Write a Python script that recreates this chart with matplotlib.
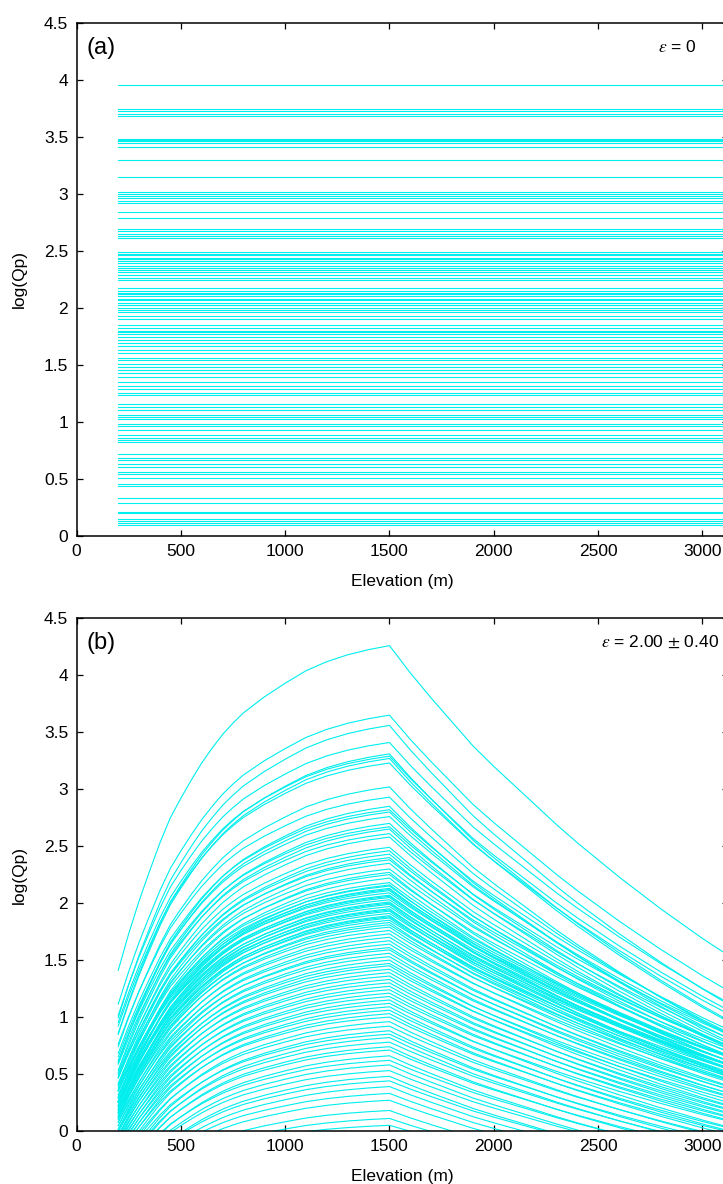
import numpy as np
import matplotlib
matplotlib.use("Agg")
import matplotlib.pyplot as plt
from matplotlib.ticker import FormatStrFormatter

plt.rcParams["font.family"] = ["Liberation Sans", "DejaVu Sans"]
plt.rcParams["mathtext.fontset"] = "stix"

# (a) epsilon = 0 : constant log(Qp) per run
vals_a = [3.956, 3.743, 3.725, 3.70, 3.68, 3.48, 3.47, 3.46, 3.445, 3.41,
          3.30, 3.15, 3.015, 2.995, 2.98, 2.96, 2.94, 2.92, 2.84, 2.79,
          2.69, 2.67, 2.65, 2.63, 2.61, 2.49, 2.475, 2.46, 2.44, 2.425,
          2.41, 2.39, 2.37, 2.35, 2.33, 2.31, 2.29, 2.26, 2.24, 2.17,
          2.15, 2.13, 2.12, 2.10, 2.08, 2.07, 2.04, 2.02, 2.00, 1.98,
          1.96, 1.93, 1.90, 1.85, 1.82, 1.80, 1.79, 1.77, 1.74, 1.72,
          1.69, 1.66, 1.63, 1.60, 1.56, 1.54, 1.51, 1.48, 1.45, 1.43,
          1.39, 1.35, 1.31, 1.29, 1.25, 1.23, 1.155, 1.13, 1.10, 1.06,
          1.04, 1.02, 0.98, 0.96, 0.93, 0.88, 0.86, 0.84, 0.82, 0.72,
          0.68, 0.66, 0.63, 0.60, 0.56, 0.54, 0.51, 0.45, 0.44, 0.33,
          0.285, 0.21, 0.195, 0.15, 0.13, 0.11, 0.09]
x_start = 200
x_end = 3300

# (b) epsilon = 2.00 +- 0.40 : peak value at 1500 m, scale of rise (left) and fall (right)
peaks_b = [4.26, 3.65, 3.56, 3.41, 3.31, 3.29, 3.27, 3.23, 3.02, 2.93,
           2.85, 2.82, 2.80, 2.76, 2.70, 2.67, 2.65, 2.61, 2.58, 2.49,
           2.46, 2.43, 2.40, 2.38, 2.35, 2.30, 2.27, 2.25, 2.22, 2.18,
           2.16, 2.15, 2.13, 2.12, 2.11, 2.09, 2.07, 2.06, 2.05, 2.03,
           2.01, 2.00, 1.99, 1.97, 1.95, 1.94, 1.93, 1.91, 1.89, 1.88,
           1.87, 1.85, 1.83, 1.81, 1.79, 1.76, 1.73, 1.70, 1.67, 1.64,
           1.61, 1.59, 1.56, 1.53, 1.50, 1.47, 1.45, 1.42, 1.39, 1.36,
           1.33, 1.30, 1.27, 1.24, 1.21, 1.18, 1.15, 1.12, 1.09, 1.06,
           1.03, 1.00, 0.96, 0.92, 0.88, 0.85, 0.82, 0.78, 0.74, 0.71,
           0.66, 0.62, 0.58, 0.53, 0.48, 0.44, 0.39, 0.33, 0.27, 0.18,
           0.11, 0.05]
scale_left = [1.00, 0.89, 0.90, 0.84, 0.86, 0.82, 0.85, 0.81, 0.80, 0.76,
              0.79, 0.75, 0.77, 0.74, 0.76, 0.72, 0.75, 0.71, 0.74, 0.70,
              0.72, 0.69, 0.71, 0.67, 0.70, 0.66, 0.69, 0.65, 0.68, 0.64,
              0.67, 0.63, 0.66, 0.62, 0.65, 0.61, 0.65, 0.62, 0.64, 0.60,
              0.63, 0.61, 0.64, 0.60, 0.62, 0.59, 0.62, 0.58, 0.61, 0.59,
              0.61, 0.57, 0.60, 0.57, 0.59, 0.56, 0.58, 0.55, 0.57, 0.54,
              0.56, 0.53, 0.55, 0.52, 0.54, 0.51, 0.53, 0.50, 0.52, 0.49,
              0.51, 0.48, 0.50, 0.47, 0.49, 0.46, 0.48, 0.45, 0.47, 0.44,
              0.46, 0.43, 0.45, 0.42, 0.44, 0.41, 0.43, 0.40, 0.41, 0.39,
              0.40, 0.37, 0.38, 0.36, 0.37, 0.35, 0.35, 0.33, 0.32, 0.30,
              0.28, 0.25]
scale_right = [1.00, 0.89, 0.90, 0.84, 0.86, 0.82, 0.85, 0.81, 0.80, 0.76,
               0.76, 0.71, 0.73, 0.70, 0.71, 0.67, 0.70, 0.66, 0.68, 0.64,
               0.65, 0.62, 0.64, 0.60, 0.62, 0.58, 0.61, 0.57, 0.59, 0.56,
               0.58, 0.55, 0.57, 0.54, 0.56, 0.53, 0.56, 0.53, 0.55, 0.52,
               0.54, 0.52, 0.55, 0.51, 0.53, 0.50, 0.53, 0.49, 0.52, 0.50,
               0.52, 0.48, 0.51, 0.48, 0.50, 0.47, 0.49, 0.46, 0.48, 0.46,
               0.47, 0.45, 0.46, 0.44, 0.46, 0.43, 0.45, 0.42, 0.44, 0.42,
               0.43, 0.41, 0.42, 0.40, 0.41, 0.39, 0.41, 0.38, 0.40, 0.38,
               0.39, 0.37, 0.38, 0.36, 0.37, 0.35, 0.36, 0.34, 0.35, 0.33,
               0.34, 0.32, 0.33, 0.31, 0.32, 0.30, 0.30, 0.29, 0.28, 0.27,
               0.25, 0.22]
# shape of the top curve, offset from its peak at 1500 m
rise_x = [200, 250, 300, 350, 400, 450, 500, 550, 600, 650, 700, 750, 800,
          900, 1000, 1100, 1200, 1300, 1400, 1500]
rise_y = [-2.85, -2.53, -2.24, -1.98, -1.73, -1.51, -1.34, -1.18, -1.03, -0.90,
          -0.78, -0.68, -0.59, -0.45, -0.33, -0.22, -0.14, -0.08, -0.035, 0]
fall_x = [1500, 1600, 1700, 1800, 1900, 2000, 2100, 2200, 2300, 2400, 2500,
          2600, 2700, 2800, 2900, 3000, 3100, 3200]
fall_y = [0, -0.24, -0.46, -0.67, -0.88, -1.06, -1.23, -1.40, -1.57, -1.73, -1.88,
          -2.03, -2.17, -2.31, -2.44, -2.57, -2.69, -2.81]

line_col = "#00EEEE"
W, H = 723, 1184
fig = plt.figure(figsize=(W / 100, H / 100), dpi=100)

left = 76.5 / W
width = (727.5 - 76.5) / W
ax_a = fig.add_axes([left, 1 - 535.7 / H, width, (535.7 - 22.7) / H])
ax_b = fig.add_axes([left, 1 - 1131 / H, width, (1131 - 618.3) / H])

# panel a
for v in vals_a:
    ax_a.plot([x_start, x_end], [v, v], color=line_col, lw=0.8)

# panel b
ex = np.array(rise_x + fall_x[1:])
for p, sl, sr in zip(peaks_b, scale_left, scale_right):
    ey = np.concatenate([p + sl * np.array(rise_y), p + sr * np.array(fall_y[1:])])
    ax_b.plot(ex, ey, color=line_col, lw=0.8)

for ax, lab in [(ax_a, "(a)"), (ax_b, "(b)")]:
    ax.set_xlim(0, 3120)
    ax.set_ylim(0, 4.5)
    ax.set_xticks(np.arange(0, 3001, 500))
    ax.set_yticks(np.arange(0, 4.51, 0.5))
    ax.yaxis.set_major_formatter(FormatStrFormatter("%g"))
    ax.tick_params(direction="in", top=True, right=True, length=4.5,
                   width=0.9, labelsize=12.5, pad=6)
    for sp in ax.spines.values():
        sp.set_linewidth(1.1)
    ax.set_xlabel("Elevation (m)", fontsize=12.5)
    ax.set_ylabel("log(Qp)", fontsize=12.5)
    ax.xaxis.set_label_coords(0.5, -0.074)
    ax.yaxis.set_label_coords(-0.076, 0.5)
    ax.text(0.0147, 0.951, lab, transform=ax.transAxes, fontsize=17,
            ha="left", va="center")

ax_a.text(0.953, 0.952, r"$\varepsilon$ = 0", transform=ax_a.transAxes,
          fontsize=12.5, ha="right", va="center")
ax_b.text(0.987, 0.954, r"$\varepsilon$ = 2.00 $\pm$ 0.40", transform=ax_b.transAxes,
          fontsize=12.5, ha="right", va="center")

fig.savefig("out.png", dpi=100)
